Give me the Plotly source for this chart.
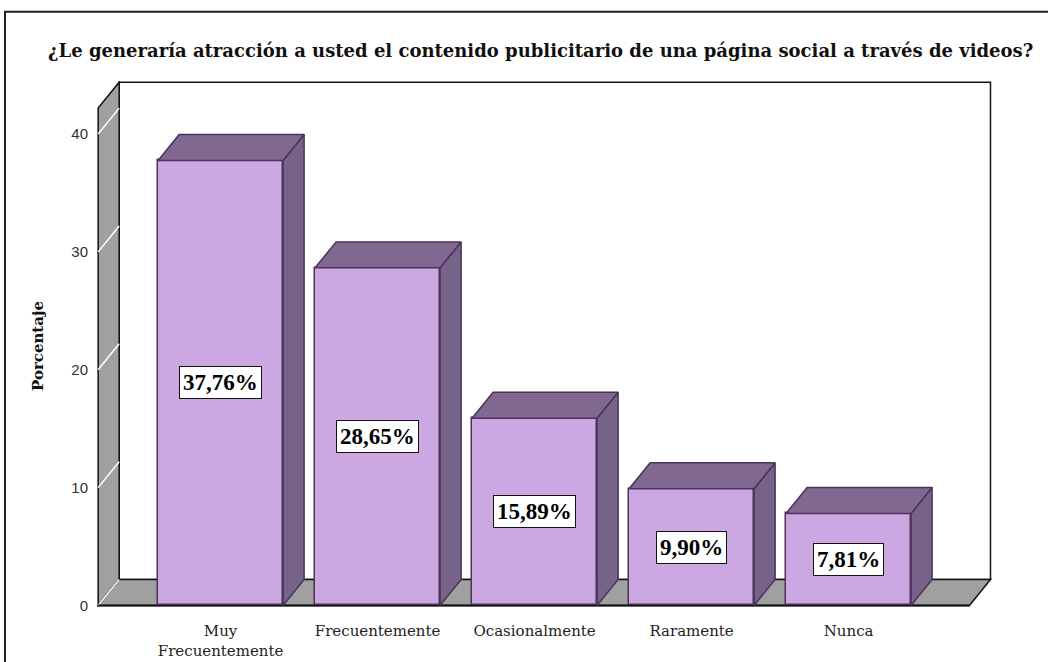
import plotly.graph_objects as go

# Survey responses (percent of respondents)
categories = ["Muy<br>Frecuentemente", "Frecuentemente", "Ocasionalmente", "Raramente", "Nunca"]
percentages = [37.76, 28.65, 15.89, 9.90, 7.81]
y_ticks = [0, 10, 20, 30, 40]

# Pseudo-3D geometry in data units
DX = 0.134        # depth offset along the category axis
DY = 2.2          # depth offset along the value axis
BAR_W = 0.796
X_LEFT, X_RIGHT = -0.78, 4.77
WALL_TOP = 42.2

FRONT = "#CBA8E2"
TOP = "#806890"
SIDE = "#77628A"
EDGE = "#4A3358"
WALL_GRAY = "#A0A0A0"

# Plot-area pixel layout
L, R, T, B = 95, 55, 80.5, 52.5
XR = [-0.80, 4.92]
YR = [-0.3, 44.5]
W = 1048 - L - R
H = 662 - T - B


def px(xp):
    return (xp - L) / W


def py(yp):
    return (662 - B - yp) / H


fig = go.Figure()

# Front faces of the bars
fig.add_trace(go.Bar(
    x=list(range(len(percentages))), y=percentages, width=BAR_W,
    marker=dict(color=FRONT, line=dict(color=EDGE, width=1.5)),
    hoverinfo="skip", showlegend=False,
))

# Side and top faces
for i, v in enumerate(percentages):
    xl, xr = i - BAR_W / 2, i + BAR_W / 2
    fig.add_trace(go.Scatter(
        x=[xr, xr + DX, xr + DX, xr, xr], y=[0, DY, v + DY, v, 0],
        fill="toself", fillcolor=SIDE, mode="lines",
        line=dict(color=EDGE, width=1.5), hoverinfo="skip", showlegend=False,
    ))
    fig.add_trace(go.Scatter(
        x=[xl, xr, xr + DX, xl + DX, xl], y=[v, v, v + DY, v + DY, v],
        fill="toself", fillcolor=TOP, mode="lines",
        line=dict(color=EDGE, width=1.5), hoverinfo="skip", showlegend=False,
    ))

shapes = []
# Back wall
shapes.append(dict(type="rect", xref="x", yref="y", layer="below",
                   x0=X_LEFT + DX, x1=X_RIGHT + DX, y0=DY, y1=WALL_TOP + DY,
                   fillcolor="white", line=dict(color="#111", width=1.5)))
# Left wall
shapes.append(dict(type="path", xref="x", yref="y", layer="below",
                   path=f"M{X_LEFT},0 L{X_LEFT},{WALL_TOP} L{X_LEFT + DX},{WALL_TOP + DY} "
                        f"L{X_LEFT + DX},{DY} Z",
                   fillcolor=WALL_GRAY, line=dict(color="#111", width=1.5)))
# Floor
shapes.append(dict(type="path", xref="x", yref="y", layer="below",
                   path=f"M{X_LEFT},0 L{X_RIGHT},0 L{X_RIGHT + DX},{DY} L{X_LEFT + DX},{DY} Z",
                   fillcolor=WALL_GRAY, line=dict(color="#111", width=1.5)))
# Tick lines across the left wall
for t in y_ticks:
    shapes.append(dict(type="line", xref="x", yref="y", layer="below",
                       x0=X_LEFT, y0=t, x1=X_LEFT + DX, y1=t + DY,
                       line=dict(color="white", width=1.5)))
# Front edge of floor
shapes.append(dict(type="line", xref="x", yref="y", layer="below",
                   x0=X_LEFT, y0=0, x1=X_RIGHT, y1=0,
                   line=dict(color="#111", width=2)))
# Outer frame
shapes.append(dict(type="rect", xref="paper", yref="paper",
                   x0=px(5), x1=px(1060), y0=py(680), y1=py(11),
                   line=dict(color="#222", width=2), fillcolor="rgba(0,0,0,0)"))

annotations = []
for i, v in enumerate(percentages):
    annotations.append(dict(
        x=i, y=v / 2, xref="x", yref="y", showarrow=False,
        text=f"{v:.2f}".replace(".", ",") + "%",
        font=dict(family="Liberation Serif", size=23, color="black", weight="bold"),
        bgcolor="white", bordercolor="#111", borderwidth=1, borderpad=3,
    ))

annotations.append(dict(
    x=px(540), y=py(50), xref="paper", yref="paper", showarrow=False,
    text="<b>¿Le generaría atracción a usted el contenido publicitario de una página social a través de videos?</b>",
    font=dict(family="DejaVu Serif", size=18, color="#111"),
    xanchor="center", yanchor="middle",
))
annotations.append(dict(
    x=px(38), y=py(346), xref="paper", yref="paper", showarrow=False,
    text="<b>Porcentaje</b>", textangle=-90,
    font=dict(family="DejaVu Serif", size=15, color="#111"),
    xanchor="center", yanchor="middle",
))

fig.update_layout(
    width=1048, height=662,
    margin=dict(l=L, r=R, t=T, b=B, pad=0, autoexpand=False),
    paper_bgcolor="white", plot_bgcolor="white",
    shapes=shapes, annotations=annotations,
    bargap=0,
    xaxis=dict(range=XR, showgrid=False, zeroline=False, showline=False,
               automargin=False,
               tickvals=list(range(len(categories))), ticktext=categories,
               ticks="", ticklabelstandoff=11,
               tickfont=dict(family="DejaVu Serif", size=15, color="#222")),
    yaxis=dict(range=YR, showgrid=False, zeroline=False, showline=False,
               automargin=False,
               tickvals=y_ticks, ticks="", ticklabelstandoff=6,
               tickfont=dict(family="Liberation Sans", size=15, color="#333")),
)

fig.write_html("out.html")
